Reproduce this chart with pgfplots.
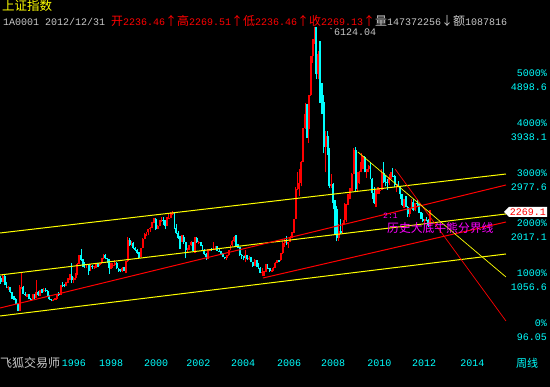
\documentclass[border=0pt]{standalone}
\usepackage{pgfplots}
\pgfplotsset{compat=1.18}
\usepackage{pgfplotstable}
\usepackage{fontspec}
\newfontfamily\monof{Liberation Mono}
\newfontfamily\cjkf{Noto Sans CJK SC}
\newcommand\mono{\monof\fontsize{10}{12}\selectfont}
\newcommand\cjk{\cjkf\fontsize{12}{14}\selectfont}
\definecolor{lgray}{RGB}{200,200,200}
\definecolor{kcyan}{RGB}{0,255,255}
\definecolor{kred}{RGB}{255,0,0}
\definecolor{kyel}{RGB}{255,255,0}
\definecolor{kmag}{RGB}{255,0,255}

% monthly OHLC of the Shanghai Composite
\pgfplotstableread{
t o h l c
1993.792 960 1000 850 890
1993.875 890 1045 880 1000
1993.958 1000 1044 820 833
1994.042 833 890 760 770
1994.125 770 800 730 778
1994.208 778 790 670 692
1994.292 692 700 560 570
1994.375 570 610 540 560
1994.458 560 580 460 467
1994.542 467 480 325 333
1994.625 333 820 330 750
1994.708 750 1052 740 793
1994.792 793 800 650 660
1994.875 660 690 620 635
1994.958 635 660 600 648
1995.042 648 650 550 562
1995.125 562 570 524 550
1995.208 550 660 545 646
1995.292 646 650 560 582
1995.375 582 926 575 700
1995.458 700 720 610 630
1995.542 630 730 620 712
1995.625 712 740 680 710
1995.708 710 760 690 724
1995.792 724 760 700 720
1995.875 720 730 620 632
1995.958 632 640 540 555
1996.042 555 560 512 537
1996.125 537 560 520 547
1996.208 547 580 530 549
1996.292 549 660 545 653
1996.375 653 700 620 642
1996.458 642 830 640 827
1996.542 827 880 790 823
1996.625 823 850 780 808
1996.708 808 890 800 882
1996.792 882 960 860 949
1996.875 949 1030 930 1000
1996.958 1000 1258 855 917
1997.042 917 980 870 965
1997.125 965 1050 930 1021
1997.208 1021 1240 1010 1230
1997.292 1230 1410 1220 1400
1997.375 1400 1510 1280 1309
1997.458 1309 1320 1170 1236
1997.542 1236 1260 1150 1208
1997.625 1208 1230 1150 1221
1997.708 1221 1225 1025 1097
1997.792 1097 1230 1090 1200
1997.875 1200 1210 1140 1176
1997.958 1176 1200 1130 1194
1998.042 1194 1250 1150 1237
1998.125 1237 1250 1180 1206
1998.208 1206 1250 1190 1243
1998.292 1243 1350 1230 1342
1998.375 1342 1420 1330 1411
1998.458 1411 1422 1320 1339
1998.542 1339 1350 1250 1317
1998.625 1317 1320 1043 1150
1998.708 1150 1250 1130 1216
1998.792 1216 1240 1150 1217
1998.875 1217 1300 1200 1247
1998.958 1247 1260 1130 1146
1999.042 1146 1160 1080 1134
1999.125 1134 1140 1070 1090
1999.208 1090 1170 1080 1159
1999.292 1159 1180 1100 1120
1999.375 1120 1290 1050 1280
1999.458 1280 1756 1270 1689
1999.542 1689 1720 1580 1601
1999.625 1601 1680 1580 1627
1999.708 1627 1650 1520 1539
1999.792 1539 1560 1480 1504
1999.875 1504 1520 1420 1445
1999.958 1445 1460 1342 1367
2000.042 1367 1540 1360 1535
2000.125 1535 1730 1530 1714
2000.208 1714 1820 1700 1800
2000.292 1800 1850 1770 1836
2000.375 1836 1900 1780 1894
2000.458 1894 1940 1850 1928
2000.542 1928 2030 1920 2023
2000.625 2023 2115 2010 2100
2000.708 2100 2110 1890 1910
2000.792 1910 1970 1900 1961
2000.875 1961 2080 1950 2070
2000.958 2070 2125 2040 2073
2001.042 2073 2130 1980 2066
2001.125 2066 2070 1900 1960
2001.208 1960 2130 1950 2112
2001.292 2112 2190 2100 2119
2001.375 2119 2230 2110 2214
2001.458 2214 2245 2180 2218
2001.542 2218 2230 1900 1920
2001.625 1920 1990 1810 1834
2001.708 1834 1870 1710 1732
2001.792 1732 1760 1514 1690
2001.875 1690 1780 1660 1747
2001.958 1747 1780 1620 1646
2002.042 1646 1650 1339 1490
2002.125 1490 1530 1460 1525
2002.208 1525 1600 1500 1594
2002.292 1594 1670 1580 1653
2002.375 1653 1660 1460 1478
2002.458 1478 1750 1450 1732
2002.542 1732 1740 1640 1650
2002.625 1650 1680 1620 1655
2002.708 1655 1660 1570 1581
2002.792 1581 1600 1500 1507
2002.875 1507 1520 1400 1420
2002.958 1420 1440 1311 1358
2003.042 1358 1510 1320 1500
2003.125 1500 1520 1480 1511
2003.208 1511 1530 1480 1510
2003.292 1510 1650 1500 1521
2003.375 1521 1580 1500 1576
2003.458 1576 1580 1480 1487
2003.542 1487 1510 1460 1476
2003.625 1476 1480 1400 1421
2003.708 1421 1440 1360 1367
2003.792 1367 1370 1320 1349
2003.875 1349 1410 1307 1397
2003.958 1397 1500 1390 1497
2004.042 1497 1600 1490 1590
2004.125 1590 1690 1580 1675
2004.208 1675 1760 1650 1741
2004.292 1741 1783 1580 1595
2004.375 1595 1620 1530 1555
2004.458 1555 1560 1380 1399
2004.542 1399 1420 1330 1386
2004.625 1386 1390 1300 1342
2004.708 1342 1490 1260 1396
2004.792 1396 1400 1300 1320
2004.875 1320 1380 1310 1340
2004.958 1340 1360 1260 1266
2005.042 1266 1270 1180 1191
2005.125 1191 1330 1190 1306
2005.208 1306 1310 1170 1181
2005.292 1181 1250 1140 1159
2005.375 1159 1170 1050 1060
2005.458 1060 1150 998 1080
2005.542 1080 1100 1004 1083
2005.625 1083 1220 1080 1162
2005.708 1162 1230 1140 1155
2005.792 1155 1160 1070 1092
2005.875 1092 1110 1075 1099
2005.958 1099 1170 1090 1161
2006.042 1161 1260 1160 1258
2006.125 1258 1310 1250 1299
2006.208 1299 1310 1260 1298
2006.292 1298 1445 1290 1440
2006.375 1440 1680 1430 1641
2006.458 1641 1700 1560 1672
2006.542 1672 1760 1600 1612
2006.625 1612 1660 1540 1658
2006.708 1658 1760 1650 1752
2006.792 1752 1840 1720 1837
2006.875 1837 2100 1830 2099
2006.958 2099 2700 2090 2675
2007.042 2675 3000 2660 2786
2007.125 2786 3050 2540 2881
2007.208 2881 3200 2720 3183
2007.292 3183 3850 3180 3841
2007.375 3841 4330 3830 4109
2007.458 4109 4310 3650 3820
2007.542 3820 4480 3560 4471
2007.625 4471 5230 4460 5218
2007.708 5218 5560 5100 5552
2007.792 5552 6124 5460 5954
2007.875 5954 5960 4780 4871
2007.958 4871 5330 4790 5262
2008.042 5262 5520 4330 4383
2008.125 4383 4700 4120 4348
2008.208 4348 4480 3360 3472
2008.292 3472 3790 2990 3693
2008.375 3693 3790 3330 3433
2008.458 3433 3460 2690 2736
2008.542 2736 2950 2680 2775
2008.625 2775 2790 2280 2397
2008.708 2397 2450 1800 2293
2008.792 2293 2350 1664 1729
2008.875 1729 2000 1680 1871
2008.958 1871 2100 1800 1820
2009.042 1820 2010 1810 1991
2009.125 1991 2400 1990 2082
2009.208 2082 2390 2040 2373
2009.292 2373 2580 2360 2477
2009.375 2477 2690 2470 2633
2009.458 2633 2970 2630 2959
2009.542 2959 3460 2950 3412
2009.625 3412 3478 2640 2667
2009.708 2667 3000 2640 2779
2009.792 2779 3010 2770 2996
2009.875 2996 3360 2990 3195
2009.958 3195 3300 3060 3277
2010.042 3277 3310 2990 2989
2010.125 2989 3060 2890 3051
2010.208 3051 3130 2990 3110
2010.292 3110 3180 2860 2871
2010.375 2871 2880 2480 2592
2010.458 2592 2700 2380 2398
2010.542 2398 2660 2320 2638
2010.625 2638 2710 2580 2642
2010.708 2642 2690 2570 2655
2010.792 2655 3060 2650 2979
2010.875 2979 3186 2790 2820
2010.958 2820 2940 2720 2808
2011.042 2808 2860 2660 2790
2011.125 2790 2950 2740 2905
2011.208 2905 3000 2860 2928
2011.292 2928 3067 2900 2911
2011.375 2911 2940 2700 2743
2011.458 2743 2770 2610 2762
2011.542 2762 2830 2700 2701
2011.625 2701 2720 2480 2568
2011.708 2568 2570 2350 2359
2011.792 2359 2480 2300 2468
2011.875 2468 2530 2320 2333
2011.958 2333 2340 2130 2199
2012.042 2199 2300 2130 2292
2012.125 2292 2480 2290 2428
2012.208 2428 2480 2240 2263
2012.292 2263 2400 2240 2397
2012.375 2397 2460 2330 2373
2012.458 2373 2390 2210 2225
2012.542 2225 2230 2100 2103
2012.625 2103 2200 2030 2047
2012.708 2047 2100 2000 2086
2012.792 2086 2140 2060 2069
2012.875 2069 2090 1949 1980
2012.958 1980 2270 1960 2269
}\ohlc

\begin{document}
\begin{tikzpicture}[x=1pt,y=1pt]
\useasboundingbox (0,0) rectangle (550,387);
\clip (0,0) rectangle (550,387);
\fill[black] (0,0) rectangle (550,387);

\begin{axis}[
  at={(0pt,42pt)}, anchor=south west,
  width=507pt, height=317pt, scale only axis,
  xmin=1993.752, xmax=2016.386,
  ymin=-326.6, ymax=5763,
  axis line style={draw=none}, tick style={draw=none},
  xtick={1996.50,1998.17,2000.18,2002.06,2004.06,2006.12,2008.08,2010.14,2012.14,2014.29},
  xticklabels={1996,1998,2000,2002,2004,2006,2008,2010,2012,2014},
  xticklabel style={anchor=west, inner sep=0pt, yshift=-18pt, text=kcyan, font=\mono},
  yticklabel pos=right,
  ytick={96.05,1056.6,2017.1,2977.6,3938.1,4898.6},
  yticklabels={0\%,1000\%,2000\%,3000\%,4000\%,5000\%},
  yticklabel style={anchor=east, inner sep=0pt, xshift=40pt, text=kcyan, font=\mono},
  extra y ticks={96.05,1056.6,2017.1,2977.6,3938.1,4898.6},
  extra y tick labels={96.05,1056.6,2017.1,2977.6,3938.1,4898.6},
  extra y tick style={yticklabel style={yshift=-14pt}},
]
% candles as vertical segments: up = red, down = cyan (the other colour gets zero length)
\addplot[kred, line width=1.2pt, line cap=butt, mark=none,
  quiver={u=0, v={(\thisrow{c}>\thisrow{o}-0.5)*(\thisrow{h}-\thisrow{l})}}]
  table[x=t, y=l] {\ohlc};
\addplot[kred, line width=1.9pt, line cap=butt, mark=none,
  quiver={u=0, v={(\thisrow{c}>\thisrow{o}-0.5)*abs(\thisrow{c}-\thisrow{o})}}]
  table[x=t, y expr={min(\thisrow{o},\thisrow{c})}] {\ohlc};
\addplot[kcyan, line width=1.2pt, line cap=butt, mark=none,
  quiver={u=0, v={(\thisrow{c}<\thisrow{o}-0.5)*(\thisrow{h}-\thisrow{l})}}]
  table[x=t, y=l] {\ohlc};
\addplot[kcyan, line width=1.9pt, line cap=butt, mark=none,
  quiver={u=0, v={(\thisrow{c}<\thisrow{o}-0.5)*abs(\thisrow{c}-\thisrow{o})}}]
  table[x=t, y expr={min(\thisrow{o},\thisrow{c})}] {\ohlc};

% trend lines
\addplot[kyel, line width=1pt] coordinates {(1993.752,1825) (2016.34,2958)};
\addplot[kyel, line width=1pt] coordinates {(1993.752,1018) (2016.34,2190)};
\addplot[kyel, line width=1pt] coordinates {(1993.752,230.5) (2016.34,1421.5)};
\addplot[kred, line width=1pt] coordinates {(1993.752,384) (2016.34,2747)};
\addplot[kred, line width=1pt] coordinates {(2005.49,960.5) (2016.34,2036)};
\addplot[kred, line width=0.7pt] coordinates {(2011.39,3054) (2016.34,134.5)};
\addplot[kyel, line width=0.7pt] coordinates {(2009.73,3381) (2016.34,980)};
\end{axis}

% header
\node[anchor=west, inner sep=0pt, text=kyel] at (2,381) {\cjkf\fontsize{12.5}{14}\selectfont 上证指数};
\node[anchor=west, inner sep=0pt] at (3,366) {%
{\color{lgray}\mono 1A0001 2012/12/31 }%
{\color{kred}\cjk 开\mono 2236.46\cjk ↑高\mono 2269.51\cjk ↑低\mono 2236.46\cjk ↑收\mono 2269.13\cjk ↑}%
{\color{lgray}\cjk 量\mono 147372256\cjk ↓额\mono 1087816}};
\node[anchor=west, inner sep=0pt, text=lgray] at (328,355) {\mono\symbol{96}6124.04};

% last price marker
\fill[white] (504,175) -- (509,180) -- (547,180) -- (547,170) -- (509,170) -- cycle;
\node[inner sep=0pt, text=kred] at (528,175) {\mono 2269.1};

% annotation
\node[anchor=west, inner sep=0pt, text=kmag] at (383,171) {\monof\fontsize{8}{9}\selectfont 2:1};
\node[anchor=west, inner sep=0pt, text=kmag] at (387,159) {\cjkf\fontsize{11.8}{13}\selectfont 历史大底牛熊分界线};

% footer
\node[anchor=west, inner sep=0pt, text=lgray] at (0,24) {\cjk 飞狐交易师};
\node[anchor=west, inner sep=0pt, text=kcyan] at (516,24) {\cjkf\fontsize{11}{13}\selectfont 周线};
\end{tikzpicture}
\end{document}
